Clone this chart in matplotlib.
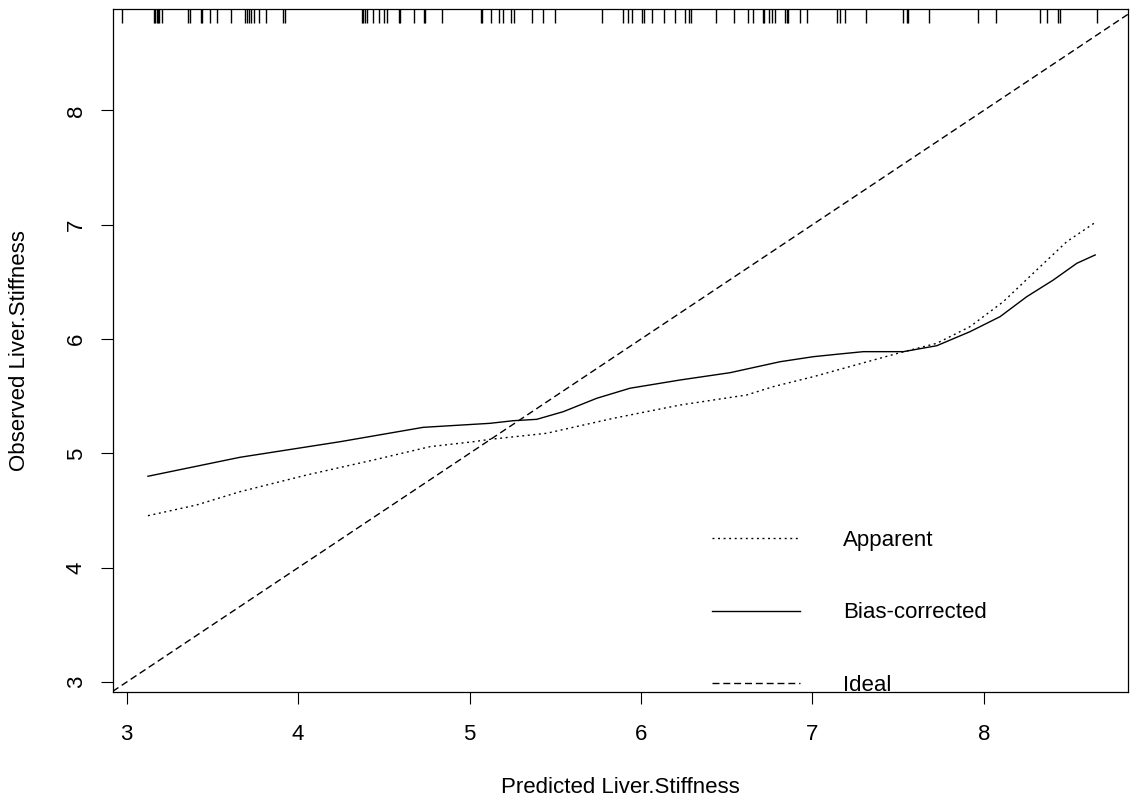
import matplotlib
matplotlib.use("Agg")
import matplotlib.pyplot as plt
import matplotlib.transforms as mtransforms

plt.rcParams['font.family'] = ['Liberation Sans', 'DejaVu Sans']

# calibration curves
apparent_x = [3.124, 3.408, 3.661, 4.050, 4.439, 4.770, 5.022, 5.120, 5.450, 5.839,
              6.228, 6.617, 6.772, 7.006, 7.162, 7.512, 7.726, 7.920, 8.114, 8.309,
              8.484, 8.650]
apparent_y = [4.455, 4.549, 4.665, 4.811, 4.942, 5.059, 5.102, 5.123, 5.176, 5.307,
              5.423, 5.511, 5.584, 5.671, 5.736, 5.881, 5.963, 6.109, 6.327, 6.605,
              6.852, 7.020]
bias_x = [3.124, 3.661, 4.244, 4.730, 5.119, 5.256, 5.392, 5.547, 5.742, 5.936,
          6.228, 6.520, 6.812, 7.006, 7.162, 7.298, 7.531, 7.726, 7.920, 8.095,
          8.251, 8.406, 8.543, 8.650]
bias_y = [4.800, 4.966, 5.102, 5.228, 5.263, 5.286, 5.298, 5.365, 5.482, 5.570,
          5.642, 5.706, 5.802, 5.846, 5.870, 5.890, 5.890, 5.942, 6.065, 6.196,
          6.371, 6.517, 6.663, 6.736]

# predicted values shown as a rug along the top
rug_x = [2.974, 3.161, 3.167, 3.175, 3.181, 3.190, 3.208, 3.356, 3.371, 3.432,
         3.439, 3.486, 3.525, 3.609, 3.688, 3.700, 3.712, 3.723, 3.743, 3.772,
         3.811, 3.914, 3.922, 4.371, 4.380, 4.390, 4.404, 4.439, 4.472, 4.503,
         4.517, 4.589, 4.596, 4.676, 4.735, 4.742, 4.838, 5.067, 5.073, 5.126,
         5.174, 5.197, 5.240, 5.260, 5.363, 5.427, 5.499, 5.771, 5.897, 5.926,
         5.946, 6.005, 6.020, 6.063, 6.135, 6.199, 6.257, 6.282, 6.291, 6.438,
         6.543, 6.623, 6.652, 6.714, 6.720, 6.749, 6.763, 6.783, 6.841, 6.851,
         6.860, 6.928, 6.967, 7.142, 7.161, 7.190, 7.312, 7.531, 7.551, 7.560,
         7.683, 7.969, 8.072, 8.329, 8.368, 8.432, 8.445, 8.659]

ticks = [3, 4, 5, 6, 7, 8]

fs = 16

fig = plt.figure(figsize=(11.30, 8.01), dpi=100)
ax = fig.add_axes([0.0997, 0.1357, 0.8983, 0.8527])

ax.set_xlim(2.918, 8.84)
ax.set_ylim(2.91, 8.885)

dotted = (0, (1.4, 2.6))
dashed = (0, (5.0, 2.8))

ax.plot(apparent_x, apparent_y, color='black', lw=1.0, linestyle=dotted, label='Apparent')
ax.plot(bias_x, bias_y, color='black', lw=1.0, linestyle='-', label='Bias-corrected')
ax.axline((3, 3), slope=1, color='black', lw=1.0, linestyle=dashed, label='Ideal')

trans = mtransforms.blended_transform_factory(ax.transData, ax.transAxes)
ax.vlines(rug_x, 0.9795, 1.0, transform=trans, color='black', lw=1.0)

ax.set_xticks(ticks)
ax.set_yticks(ticks)
ax.tick_params(direction='out', length=8.6, width=0.8, labelsize=fs)
ax.tick_params(axis='x', pad=14)
ax.tick_params(axis='y', pad=10)
for lab in ax.get_yticklabels():
    lab.set_rotation(90)
    lab.set_va('center')

for sp in ax.spines.values():
    sp.set_linewidth(0.9)

ax.set_xlabel('Predicted Liver.Stiffness', fontsize=fs)
ax.set_ylabel('Observed Liver.Stiffness', fontsize=fs)
ax.xaxis.set_label_coords(0.5, -0.1387)
ax.xaxis.label.set_va('center')
ax.yaxis.set_label_coords(-0.0913, 0.5)
ax.yaxis.label.set_va('center')

leg = ax.legend(loc='center left', bbox_to_anchor=(0.590, 0.1163), frameon=False,
                fontsize=fs, handlelength=3.96, handletextpad=1.94, labelspacing=2.33,
                borderpad=0, borderaxespad=0)

fig.savefig('out.png', dpi=100)
